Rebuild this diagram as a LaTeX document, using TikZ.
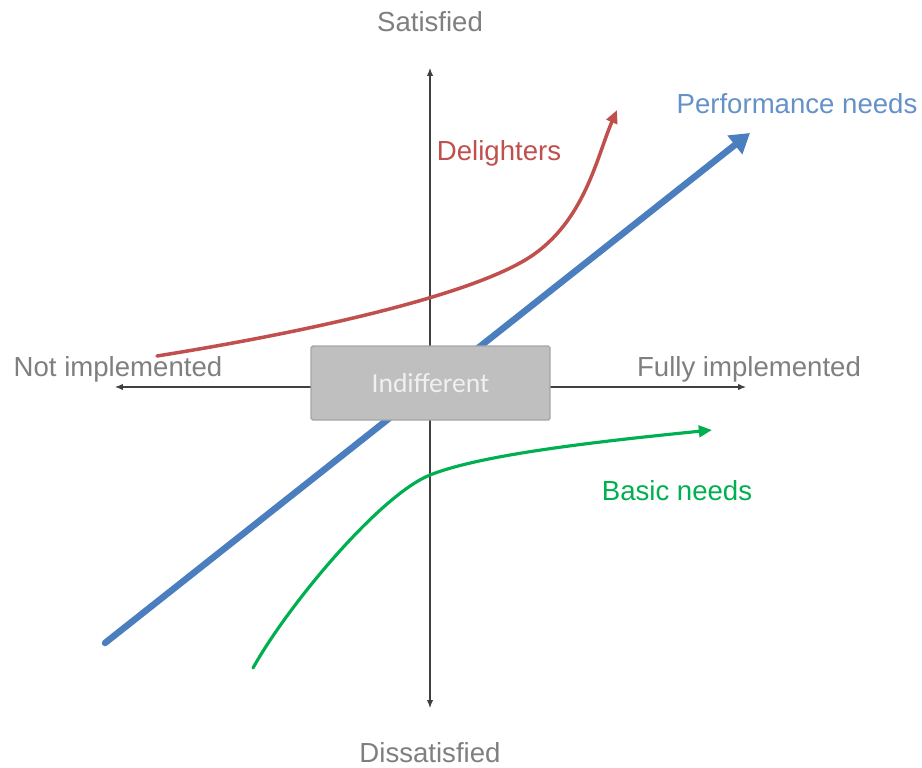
\documentclass[tikz,border=0pt]{standalone}
\usepackage{fontspec}
\setmainfont{Liberation Sans}
\newfontfamily\calibrifont{Carlito}
\usetikzlibrary{arrows.meta}

\definecolor{axisgray}{HTML}{7F7F7F}
\definecolor{boxfill}{HTML}{BFBFBF}
\definecolor{boxline}{HTML}{A6A6A6}
\definecolor{perfblue}{HTML}{4A7EBF}
\definecolor{delired}{HTML}{C0504D}
\definecolor{basicgreen}{HTML}{00B050}

\begin{document}
\begin{tikzpicture}[x=0.02cm,y=-0.02cm,
    lbl/.style={anchor=base,inner sep=0pt,font=\fontsize{15.7}{18}\selectfont},
    axisline/.style={line width=0.6pt,black!75,{Latex[length=4.5pt,width=3.6pt]}-{Latex[length=4.5pt,width=3.6pt]}},
    curve/.style={line width=#1,line cap=round}]
  \useasboundingbox (0,0) rectangle (922,767);

  % axes
  \coordinate (top) at (430,68);
  \coordinate (bottom) at (430,708);
  \coordinate (left) at (115,387);
  \coordinate (right) at (746,387);
  \draw[axisline] (bottom) -- (top);
  \draw[axisline] (left) -- (right);

  \node[lbl,text=axisgray] (sat)   at (430,32)  {Satisfied};
  \node[lbl,text=axisgray] (dissat) at (430,762) {Dissatisfied};
  \node[lbl,text=axisgray] (notimp) at (118,376) {Not implemented};
  \node[lbl,text=axisgray] (fullimp) at (749,376) {Fully implemented};

  % performance needs
  \coordinate (perfstart) at (105,643);
  \coordinate (perfend) at (750,133);
  \draw[curve=3.7pt,perfblue,-{Triangle[length=11pt,width=13pt]}] (perfstart) -- (perfend);

  \node[draw=boxline,fill=boxfill,line width=0.8pt,rounded corners=1pt,
        minimum width=239*0.02cm,minimum height=74*0.02cm,
        text=white!94!black,font=\calibrifont\fontsize{15.7}{18}\selectfont]
        (indiff) at (430.5,383) {Indifferent};

  % delighters
  \coordinate (delistart) at (157,356);
  \coordinate (delimid) at (530,257);
  \coordinate (deliend) at (617,110);
  \draw[curve=2pt,delired,-{Triangle[length=7.5pt,width=6.5pt]}]
    (delistart) .. controls (307,332) and (470,296) .. (delimid)
                .. controls (585,221) and (597,156) .. (deliend);

  % basic needs
  \coordinate (basicstart) at (253,668);
  \coordinate (basicmid) at (430,475);
  \coordinate (basicend) at (712,430);
  \draw[curve=1.8pt,basicgreen,-{Triangle[length=7.5pt,width=6.5pt]}]
    (basicstart) .. controls (288,605) and (380,495) .. (basicmid)
                 .. controls (480,455) and (592,442) .. (basicend);

  \node[lbl,text=perfblue!85!white] (perf) at (797,113) {Performance needs};
  \node[lbl,text=delired] (deli) at (499,160) {Delighters};
  \node[lbl,text=basicgreen] (basic) at (677,500) {Basic needs};
\end{tikzpicture}
\end{document}
